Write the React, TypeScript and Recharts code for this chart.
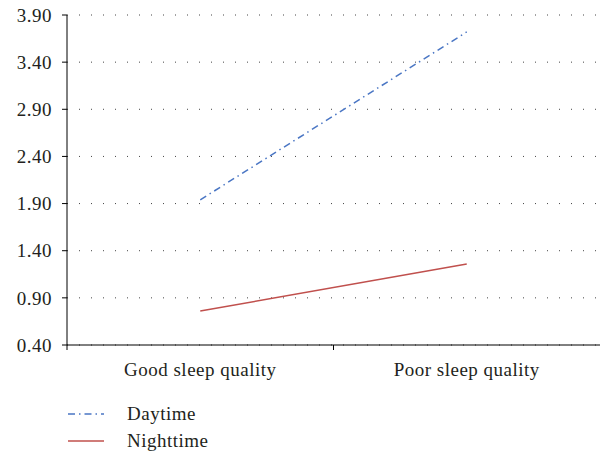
import { LineChart, Line, XAxis, YAxis, CartesianGrid, Legend } from 'recharts';

const categories = ['Good sleep quality', 'Poor sleep quality'];
const daytime = [1.94, 3.72];
const nighttime = [0.76, 1.26];
const yTicks = [0.4, 0.9, 1.4, 1.9, 2.4, 2.9, 3.4, 3.9];

const data = categories.map((name, i) => ({
  name,
  daytime: daytime[i],
  nighttime: nighttime[i],
}));

const FONT = '"Liberation Serif", "DejaVu Serif", serif';
const BLUE = '#4a76c4';
const RED = '#c0504d';
const DAY_DASH = '7 4 1.5 4';
const TEXT = '#231f20';

const PLOT_LEFT = 67;
const PLOT_RIGHT = 600;
const BAND = (PLOT_RIGHT - PLOT_LEFT) / categories.length;

function CategoryTick(props: any) {
  const { x, y, payload } = props;
  const left = x - BAND / 2;
  return (
    <g>
      <line x1={left} y1={y - 8} x2={left} y2={y - 3} stroke="#000" strokeWidth={1} />
      <text
        x={x}
        y={y + 23}
        textAnchor="middle"
        fontSize={19}
        letterSpacing={0.5}
        fill={TEXT}
        fontFamily={FONT}
      >
        {payload.value}
      </text>
    </g>
  );
}

function SleepLegend() {
  const items = [
    { label: 'Daytime', color: BLUE, dash: DAY_DASH },
    { label: 'Nighttime', color: RED, dash: undefined },
  ];
  return (
    <div style={{ height: 70, position: 'relative', fontFamily: FONT }}>
      {items.map((it, i) => (
        <div
          key={it.label}
          style={{ position: 'absolute', left: 68, top: 18 + i * 27, display: 'flex', alignItems: 'center' }}
        >
          <svg width={36} height={20}>
            <line x1={0} y1={10} x2={36} y2={10} stroke={it.color} strokeWidth={1.5} strokeDasharray={it.dash} />
          </svg>
          <span style={{ marginLeft: 23, fontSize: 19, letterSpacing: 0.5, color: TEXT }}>{it.label}</span>
        </div>
      ))}
    </div>
  );
}

export default function App() {
  return (
    <div style={{ position: 'absolute', left: 0, top: 0, fontFamily: FONT }}>
      <LineChart width={600} height={455} data={data} margin={{ top: 15, right: 0, bottom: 0, left: 0 }}>
        <CartesianGrid vertical={false} stroke="#444" strokeDasharray="1 11" />
        <XAxis
          dataKey="name"
          height={40}
          padding={{ left: BAND / 2, right: BAND / 2 }}
          axisLine={{ stroke: '#000' }}
          tickLine={false}
          tick={<CategoryTick />}
          interval={0}
        />
        <YAxis
          width={67}
          domain={[0.4, 3.9]}
          ticks={yTicks}
          tickFormatter={(v: number) => v.toFixed(2)}
          axisLine={{ stroke: '#000' }}
          tickLine={{ stroke: '#000' }}
          tickSize={5}
          tickMargin={10}
          tick={{ fontSize: 19, letterSpacing: 0.5, fill: TEXT, fontFamily: FONT }}
        />
        <Line
          dataKey="daytime"
          type="linear"
          stroke={BLUE}
          strokeWidth={1.5}
          strokeDasharray={DAY_DASH}
          dot={false}
          isAnimationActive={false}
        />
        <Line
          dataKey="nighttime"
          type="linear"
          stroke={RED}
          strokeWidth={1.5}
          dot={false}
          isAnimationActive={false}
        />
        <Legend verticalAlign="bottom" content={<SleepLegend />} />
      </LineChart>
    </div>
  );
}
